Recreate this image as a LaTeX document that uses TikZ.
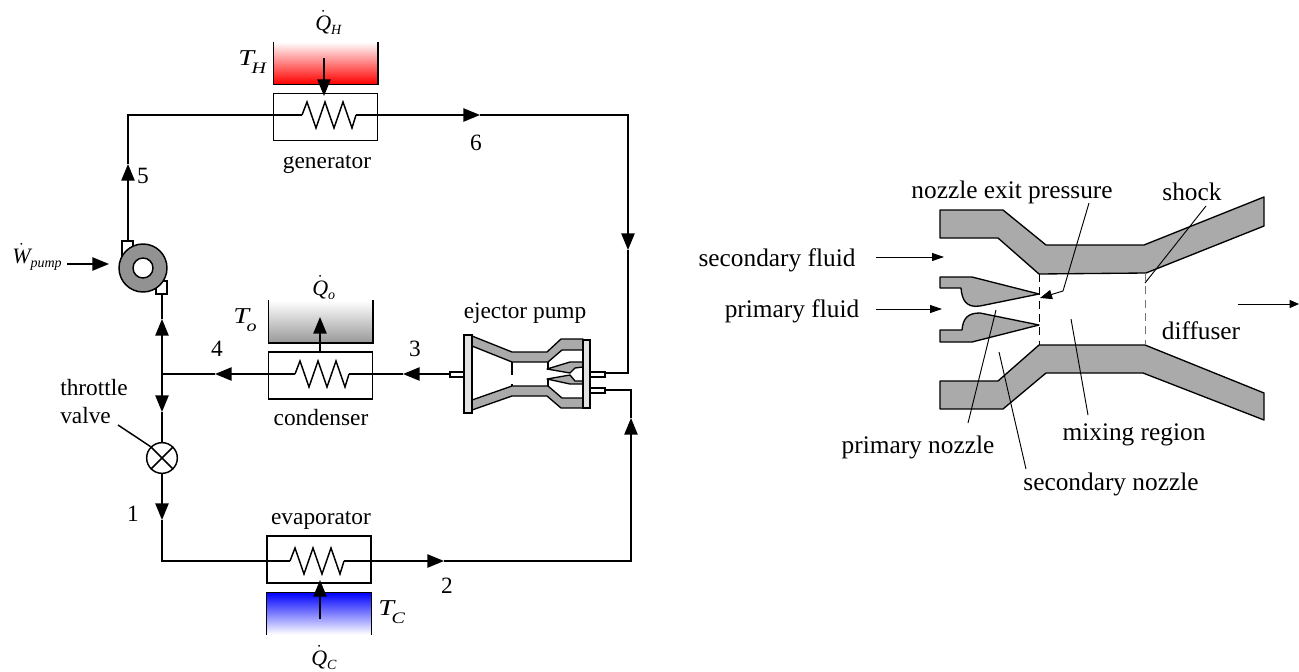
\documentclass[tikz,border=0pt]{standalone}
\usepackage{amsmath}
\usepackage{fontspec}
\setmainfont{Liberation Serif}
\usetikzlibrary{arrows.meta}
\tikzset{>={Triangle[length=12.5pt,width=10pt]}}
\definecolor{wallgray}{HTML}{AAAAAA}
\definecolor{flangegray}{HTML}{E2E2E2}
\definecolor{pumpgray}{HTML}{929292}
\newcommand{\qflux}[2]{{\fontsize{16.5}{16.5}\selectfont\itshape$\dot{\hbox{\itshape #1}}$\raisebox{-3pt}{\fontsize{10.5}{10.5}\selectfont #2}}}
\newcommand{\tempr}[2]{\scalebox{1.25}[1]{\fontsize{17}{17}\selectfont\itshape #1\kern-1.5pt\raisebox{-6pt}{\fontsize{12}{12}\selectfont #2}}}

\begin{document}
\begin{tikzpicture}[
    x=0.75pt, y=-0.75pt,
    pipe/.style={line width=1.1pt},
    thin line/.style={line width=0.7pt},
    exchanger/.style={draw, line width=1.1pt, rectangle, inner sep=0pt, minimum width=78pt, minimum height=35pt},
    reservoir/.style={rectangle, inner sep=0pt, minimum width=78pt, minimum height=31.5pt},
    lblsmall/.style={inner sep=0pt, font=\fontsize{17.5}{21}\selectfont},
    lbllarge/.style={inner sep=0pt, font=\fontsize{19}{23}\selectfont},
    symbol/.style={inner sep=0pt, anchor=base west},
    stub/.style={draw, line width=1.1pt, fill=white},
    wall/.style={draw, line width=1pt, fill=wallgray, line join=round},
    coil/.pic={
        \draw[pipe] (0,0) -- (5,-13) -- (14,13) -- (23,-13) -- (32,13) -- (41,-13) -- (50,13) -- (54,0);
        \coordinate (-in) at (0,0);
        \coordinate (-out) at (54,0);
    }
]
    \useasboundingbox (0,0) rectangle (1299,671);

    % Reservoirs
    \node (hotres) [reservoir, top color=white, bottom color=red] at (325.5,63) {};
    \node (ambres) [reservoir, top color=white, bottom color=black!40] at (320.5,321.5) {};
    \node (coldres) [reservoir, top color=blue, bottom color=white] at (319,613.5) {};
    \draw[pipe] (hotres.north west) -- (hotres.south west) -- (hotres.south east) -- (hotres.north east);
    \draw[pipe] (ambres.north west) -- (ambres.south west) -- (ambres.south east) -- (ambres.north east);
    \draw[pipe] (coldres.south west) -- (coldres.north west) -- (coldres.north east) -- (coldres.south east);

    % Heat exchangers
    \node (generator) [exchanger] at (325.5,117) {};
    \node (condenser) [exchanger] at (320.5,375.5) {};
    \node (evaporator) [exchanger] at (319,559.5) {};
    \pic (gencoil) at (302,115) {coil};
    \pic (condcoil) at (295,374) {coil};
    \pic (evapcoil) at (290,561) {coil};

    % Pump
    \draw[stub] (122,241) rectangle (133,256);
    \draw[stub] (156,281) rectangle (167,294);
    \node (pump) [draw, circle, line width=1.1pt, fill=pumpgray, minimum size=36pt, inner sep=0pt] at (143,268) {};
    \node (pumpeye) [draw, circle, line width=1.1pt, fill=white, minimum size=15pt, inner sep=0pt] at (143,268) {};
    \coordinate (pumpout) at (128,241);
    \coordinate (pumpin) at (162,294);

    % Throttle valve
    \node (valve) [draw, circle, line width=1.1pt, fill=white, minimum size=23pt, inner sep=0pt] at (162,458) {};
    \draw[pipe] (valve.45) -- (valve.225);
    \draw[pipe] (valve.135) -- (valve.315);

    % Ejector pump
    \draw[wall] (472,336) -- (512,352) -- (547,352) -- (561,339) -- (583,339) -- (583,350) -- (562,350) -- (548,362) -- (512,362) -- (472,346) -- cycle;
    \draw[wall] (472,400) -- (512,386) -- (548,386) -- (562,398) -- (583,398) -- (583,408) -- (561,408) -- (547,396) -- (512,396) -- (472,410) -- cycle;
    \draw[wall] (583,362) -- (570,362) -- (547,369) -- (570,373) -- (575,368) -- (583,367) -- cycle;
    \draw[wall] (583,384) -- (570,384) -- (547,379) -- (570,375) -- (575,381) -- (583,381) -- cycle;
    \draw[stub] (450,372) rectangle (472,377);
    \draw[stub] (583,372) rectangle (605,377);
    \draw[stub] (583,388) rectangle (605,393);
    \draw[stub, fill=flangegray] (464,335) rectangle (472,413);
    \draw[stub, fill=flangegray] (583,340) rectangle (590,408);
    \draw[pipe] (512,362) -- (512,375);
    \draw[pipe] (512,384) -- (512,386);
    \draw[pipe] (548,362) -- (548,370);
    \draw[pipe] (548,380) -- (548,386);
    \coordinate (ejectout) at (450,374);
    \coordinate (ejectprim) at (605,373);
    \coordinate (ejectsec) at (606,390);

    % Cycle, tips on the lines
    \coordinate (tip5) at (128,164);
    \coordinate (tip6) at (480,115);
    \coordinate (tiphigh) at (628,250);
    \coordinate (tip3) at (403,374);
    \coordinate (tip4) at (215,374);
    \coordinate (junction) at (162,374);
    \coordinate (tipjoin) at (162,319);
    \coordinate (tipvalve) at (162,412);
    \coordinate (tip1) at (162,520);
    \coordinate (tip2) at (444,561);
    \coordinate (tiplow) at (631,418);

    \draw[pipe, ->] (pumpout) -- (tip5);
    \draw[pipe] (tip5) |- (gencoil-in);
    \draw[pipe, ->] (gencoil-out) -- (tip6);
    \draw[pipe, ->] (tip6) -| (tiphigh);
    \draw[pipe] (tiphigh) |- (ejectprim);
    \draw[pipe, ->] (ejectout) -- (tip3);
    \draw[pipe] (tip3) -- (condcoil-out);
    \draw[pipe, ->] (condcoil-in) -- (tip4);
    \draw[pipe] (tip4) -- (junction);
    \draw[pipe, ->] (junction) -- (tipjoin);
    \draw[pipe] (tipjoin) -- (pumpin);
    \draw[pipe, ->] (junction) -- (tipvalve);
    \draw[pipe] (tipvalve) -- (valve);
    \draw[pipe, ->] (valve) -- (tip1);
    \draw[pipe] (tip1) |- (evapcoil-in);
    \draw[pipe, ->] (evapcoil-out) -- (tip2);
    \draw[pipe, ->] (tip2) -| (tiplow);
    \draw[pipe] (tiplow) |- (ejectsec);

    % Heat and work arrows
    \coordinate (heatin) at (324,58);
    \coordinate (heatout) at (320,353);
    \coordinate (coldin) at (320,619);
    \coordinate (workin) at (67,264);
    \draw[pipe, ->] (heatin) -- (324,96);
    \draw[pipe, ->] (heatout) -- (320,317);
    \draw[pipe, ->] (coldin) -- (320,580);
    \draw[pipe, ->] (workin) -- (109,264);

    % Valve leader
    \coordinate (valvelead) at (118,425);
    \draw[pipe] (valvelead) -- (valve.135);

    % Labels
    \node (lblQh) [symbol] at (315,30) {\qflux{Q}{H}};
    \node (lblTh) [symbol] at (238,65) {\tempr{T}{H}};
    \node (lblQo) [symbol] at (312,295) {\qflux{Q}{o}};
    \node (lblTo) [symbol] at (233,323) {\tempr{T}{o}};
    \node (lblQc) [symbol] at (311,665) {\qflux{Q}{C}};
    \node (lblTc) [symbol] at (378,615) {\tempr{T}{C}};
    \node (lblW) [symbol] at (12,263) {\qflux{W}{pump}};
    \node (lblgen) [lblsmall] at (327,164) {generator};
    \node (lblcond) [lblsmall] at (321,418) {condenser};
    \node (lblevap) [lblsmall] at (321,520) {evaporator};
    \node (lblejector) [lblsmall] at (525,313) {ejector pump};
    \node (lblvalve) [lblsmall, align=left, anchor=west] at (60,402) {throttle \\ valve};
    \node (lbl1) [lblsmall] at (133,514) {1};
    \node (lbl2) [lblsmall] at (447,586) {2};
    \node (lbl3) [lblsmall] at (415,349) {3};
    \node (lbl4) [lblsmall] at (217,349) {4};
    \node (lbl5) [lblsmall] at (143,176) {5};
    \node (lbl6) [lblsmall] at (476,143) {6};

    % Ejector detail
    \draw[wall] (940,210) -- (1003,210) -- (1046,245) -- (1144,245) -- (1264,197) -- (1264,226) -- (1146,273) -- (1039,274) -- (998,238) -- (940,238) -- cycle;
    \draw[wall] (940,381) -- (998,381) -- (1039,345) -- (1145,345) -- (1264,393) -- (1264,420) -- (1143,373) -- (1046,373) -- (1003,409) -- (940,409) -- cycle;
    \draw[wall] (940,277) -- (972,277) -- (1039,294) -- (980,306) .. controls (966,308) and (962,300) .. (961,288) -- (940,288) -- cycle;
    \draw[wall] (940,342) -- (972,342) -- (1039,325) -- (980,313) .. controls (968,313) and (963,318) .. (962,330) -- (940,330) -- cycle;
    \draw[thin line, dash pattern=on 6pt off 4pt] (1039,274) -- (1039,345);
    \draw[thin line, black!55, dash pattern=on 6pt off 4pt] (1145,273) -- (1145,345);

    \node (lblexit) [lbllarge] at (1012,192) {nozzle exit pressure};
    \node (lblshock) [lbllarge] at (1192,192) {shock};
    \node (lblsecfluid) [lbllarge] at (777,260) {secondary fluid};
    \node (lblprimfluid) [lbllarge] at (792,311) {primary fluid};
    \node (lbldiffuser) [lbllarge] at (1201,331) {diffuser};
    \node (lblmixing) [lbllarge] at (1134,435) {mixing region};
    \node (lblprimnozzle) [lbllarge] at (918,447) {primary nozzle};
    \node (lblsecnozzle) [lbllarge] at (1111,484) {secondary nozzle};

    \coordinate (exitbend) at (1063,291);
    \draw[thin line, -{Triangle[length=9pt,width=7pt]}] (1089,203) -- (exitbend) -- (1040,298);
    \draw[thin line] (1206,206) -- (1145,283);
    \draw[thin line] (996,310) -- (968,423);
    \draw[thin line] (999,352) -- (1026,469);
    \draw[thin line] (1071,319) -- (1088,415);
    \draw[thin line, -{Triangle[length=9pt,width=6pt]}] (876,257) -- (944,257);
    \draw[thin line, -{Triangle[length=9pt,width=6pt]}] (876,309) -- (942,309);
    \draw[thin line, -{Triangle[length=7pt,width=6pt]}] (1238,304) -- (1299,304);
\end{tikzpicture}
\end{document}
